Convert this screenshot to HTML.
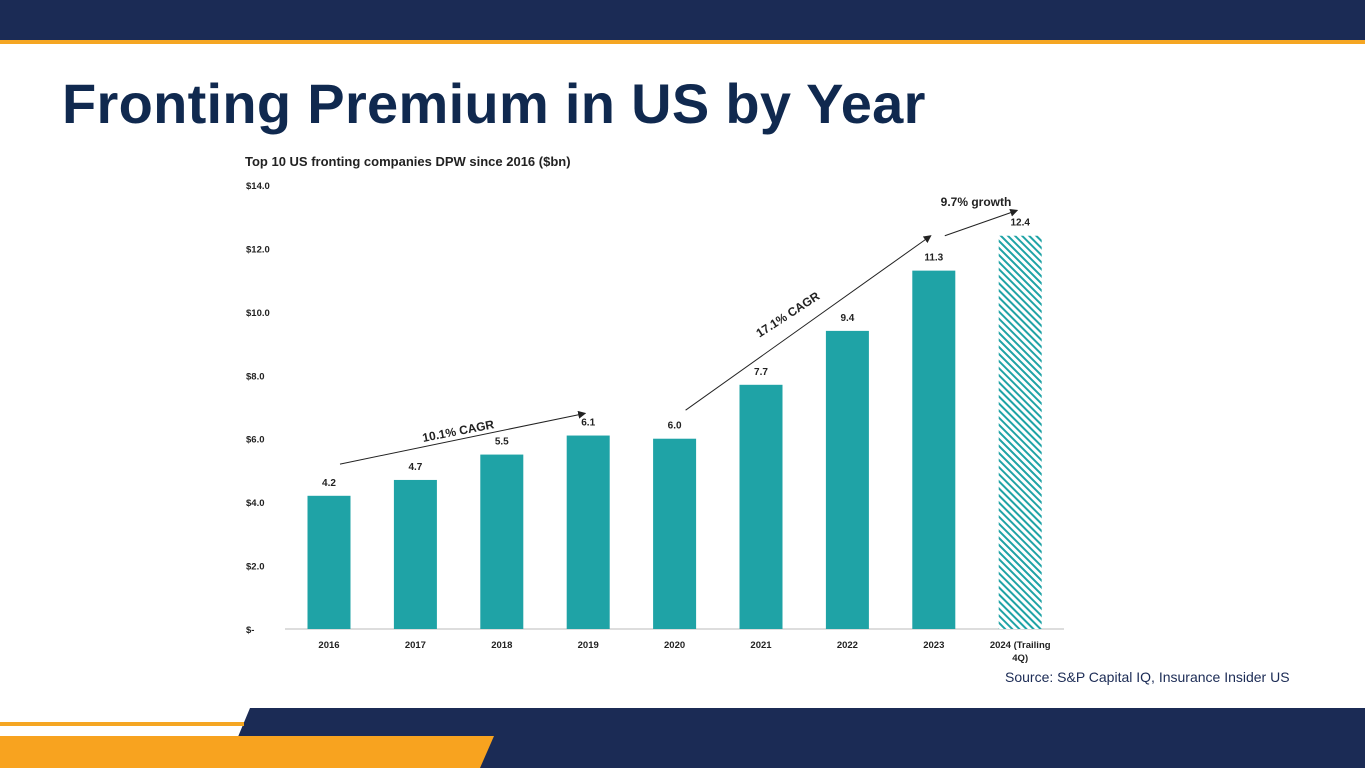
<!DOCTYPE html>
<html><head><meta charset="utf-8"><style>
html,body{margin:0;padding:0;width:1365px;height:768px;overflow:hidden;background:#fff;font-family:"Liberation Sans",sans-serif;}
#title{position:absolute;left:62px;top:71px;font-size:56px;font-weight:bold;color:#10294f;letter-spacing:0.3px;margin:0;}
</style></head><body>
<svg width="1365" height="768" style="position:absolute;left:0;top:0">
<rect x="0" y="0" width="1365" height="40" fill="#1b2b55"/>
<rect x="0" y="40" width="1365" height="4" fill="#f5a623"/>
<polygon points="250,708 1365,708 1365,768 225,768" fill="#1b2b55"/>
<rect x="0" y="722" width="244" height="4" fill="#f5a623"/>
<polygon points="0,736 494,736 480,768 0,768" fill="#f8a31f"/>
</svg>
<h1 id="title">Fronting Premium in US by Year</h1>
<svg id="chart" width="1365" height="768" style="position:absolute;left:0;top:0">
<defs>
<pattern id="hatch" patternUnits="userSpaceOnUse" width="5" height="5" patternTransform="rotate(-45)">
<rect width="5" height="5" fill="#fff"/><rect width="2" height="5" fill="#1fa3a6"/>
</pattern>
<marker id="arr" markerWidth="8" markerHeight="8" refX="7" refY="4" orient="auto"><path d="M0,0 L8,4 L0,8 z" fill="#222"/></marker>
</defs>
</svg>
<div style="position:absolute;left:1005px;top:669px;font-size:14px;color:#1b2b55">Source: S&amp;P Capital IQ, Insurance Insider US</div>
<script>
const categories=["2016","2017","2018","2019","2020","2021","2022","2023","2024 (Trailing|4Q)"];
const values=[4.2,4.7,5.5,6.1,6.0,7.7,9.4,11.3,12.4];
const valueLabels=["4.2","4.7","5.5","6.1","6.0","7.7","9.4","11.3","12.4"];
const ticks=[0,2,4,6,8,10,12,14];
const tickLabels=["$-","$2.0","$4.0","$6.0","$8.0","$10.0","$12.0","$14.0"];
const NS="http://www.w3.org/2000/svg";
const svg=document.getElementById('chart');
const y0=629,yTop=185,vmax=14;
function y(v){return y0-(y0-yTop)*v/vmax;}
function x(i){return 329+i*86.4;}
function mk(tag,attrs,txt){const e=document.createElementNS(NS,tag);for(const k in attrs)e.setAttribute(k,attrs[k]);if(txt!==undefined)e.textContent=txt;svg.appendChild(e);return e;}
let t=mk('text',{x:245,y:166,'font-size':13,'font-weight':'bold',fill:'#222'},'Top 10 US fronting companies DPW since 2016 ($bn)');


ticks.forEach((v,i)=>{const e=mk('text',{x:246,y:y(v)+4,'font-size':9.5,'font-weight':'bold',fill:'#222'},tickLabels[i]);

});
let ax=mk('line',{x1:285,x2:1064,y1:y0,y2:y0,stroke:'#bbb','stroke-width':1});


values.forEach((v,i)=>{
const last=i===values.length-1;
const b=mk('rect',{x:x(i)-21.5,y:y(v),width:43,height:y0-y(v),fill:last?'url(#hatch)':'#1fa3a6'});


const l=mk('text',{x:x(i),y:y(v)-10,'font-size':10,'font-weight':'bold',fill:'#222','text-anchor':'middle'},valueLabels[i]);


categories[i].split('|').forEach((s,j)=>{const c=mk('text',{x:x(i),y:648+j*13,'font-size':9.5,'font-weight':'bold',fill:'#222','text-anchor':'middle'},s);

});
});
function arrow(i1,v1,i2,v2,label,lx,ly,ang,name){
const a=mk('line',{x1:x(i1)+11,y1:y(v1),x2:x(i2)-3,y2:y(v2),stroke:'#222','stroke-width':1,'marker-end':'url(#arr)'});


const tx=mk('text',{x:lx,y:ly,'font-size':12,'font-weight':'bold',fill:'#222','text-anchor':'middle',transform:`rotate(${ang} ${lx} ${ly})`},label);

}
arrow(0,5.2,3,6.8,'10.1% CAGR',459,435,-11,'cagr-2016-2019');
arrow(4,6.9,7,12.4,'17.1% CAGR',790,318,-33,'cagr-2020-2023');
arrow(7,12.4,8,13.2,'9.7% growth',976,206,0,'growth-2024');
</script>
</body></html>
